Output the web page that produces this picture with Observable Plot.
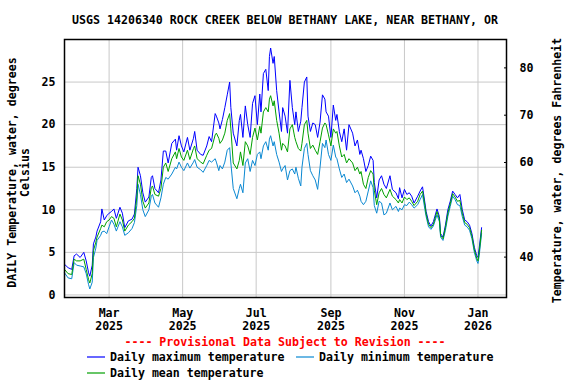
<!DOCTYPE html>
<html>
<head>
<meta charset="utf-8">
<script src="https://cdn.jsdelivr.net/npm/d3@7"></script>
<script src="https://cdn.jsdelivr.net/npm/@observablehq/plot@0.6"></script>
<style>
  body { margin: 0; background: #fff; }
  #wrap { position: relative; width: 576px; height: 384px; overflow: hidden;
          font-family: "DejaVu Sans Mono", monospace; font-weight: bold; font-size: 11.6px; color: #000; }
  #title { position: absolute; left: 64px; width: 442px; top: 13px; line-height: 14px; text-align: center; white-space: nowrap; }
  #chart { position: absolute; left: 0; top: 30px; }
  #prov { position: absolute; left: 64px; width: 442px; top: 335px; line-height: 14px; text-align: center; color: #ff0000; white-space: nowrap; }
  .leg { position: absolute; line-height: 14px; white-space: nowrap; }
  .sw { position: absolute; width: 18px; height: 4px; overflow: visible; }
</style>
</head>
<body>
<div id="wrap">
  <div id="title"></div>
  <div id="chart"></div>
  <div id="prov"></div>
  <div id="legend"></div>
</div>
<script>
// ---------------- data ----------------
const titleText = "USGS 14206340 ROCK CREEK BELOW BETHANY LAKE, NEAR BETHANY, OR";
const provisionalText = "---- Provisional Data Subject to Revision ----";
const yLabelC = "DAILY Temperature, water, degrees\nCelsius";
const yLabelF = "Temperature, water, degrees Fahrenheit";

const startDate = "2025-01-23";
// day offsets from startDate for each reading
const dayOffsets = [0,3,6,8,10,13,16,18,20,21,23,24,26,27,30,31,33,35,37,39,41,43,46,48,50,53,56,58,60,61,63,65,67,70,72,73,75,78,80,82,84,86,89,92,93,95,97,99,102,104,107,108,110,113,115,118,120,122,125,126,128,
129,131,133,135,137,138,140,143,145,146,148,150,152,154,156,158,160,162,163,165,167,169,170,171,173,174,176,178,180,181,183,185,187,189,191,192,194,196,197,199,201,202,204,206,208,210,212,214,216,217,219,221,223,225,226,228,230,232,234,236,239,241,243,245,
246,248,250,252,254,256,257,259,261,263,265,267,270,272,275,277,278,280,282,284,286,288,290,293,295,297,299,300,302,304,306,309,311,312,314,316,318,320,322,324,326,328,330,332,334,336,338,340,342,343,344,346];

const maxTemp = [3.6,3.2,3.0,4.6,4.8,4.4,5.0,4.0,2.6,2.2,3.5,6.0,6.8,7.5,8.6,10.1,8.8,9.3,9.6,9.8,10.1,9.0,10.3,9.6,7.9,8.7,8.9,9.5,12.5,15.0,14.0,12.0,10.9,11.5,13.8,14.0,12.5,12.0,13.5,16.9,16.9,15.5,17.8,18.3,17.0,18.7,17.5,16.8,18.5,17.0,18.4,19.2,17.0,16.5,16.4,17.5,18.6,18.0,21.3,21.0,20.2,
19.5,20.6,22.0,23.5,25.0,22.0,19.0,17.5,20.5,21.2,18.5,22.2,20.0,18.5,22.5,23.4,20.0,23.6,21.5,26.0,26.5,24.0,28.0,29.0,27.2,28.0,24.0,21.5,19.2,22.0,21.0,19.0,25.2,22.0,20.0,21.5,19.2,20.4,22.0,25.0,25.6,21.0,19.2,20.2,20.0,18.5,20.3,23.5,23.0,21.5,21.0,18.5,22.3,20.5,21.2,19.2,18.0,19.5,17.0,20.0,19.0,17.5,18.2,16.5,
17.0,16.0,14.5,15.2,16.3,15.8,13.2,11.4,13.5,14.0,13.0,12.5,14.0,12.4,12.0,11.3,12.6,11.4,12.4,11.8,12.0,11.6,10.8,11.6,12.2,12.7,10.8,9.8,8.6,8.1,8.6,10.1,9.2,7.2,6.8,8.2,10.0,11.0,12.2,11.8,11.4,11.8,10.0,8.8,8.6,8.2,7.2,5.6,4.6,4.4,5.5,7.9];

const meanTemp = [3.0,2.5,2.4,4.2,4.0,4.0,4.2,3.0,1.8,1.4,2.5,5.2,6.2,6.8,7.8,8.2,8.0,8.6,8.8,9.2,9.0,8.0,9.5,8.8,7.5,8.2,8.6,9.0,11.5,14.0,13.0,11.0,10.2,10.8,12.6,12.8,11.8,11.6,12.5,15.0,15.5,14.5,16.0,16.8,16.0,17.2,16.2,15.8,17.0,15.9,17.2,17.5,16.0,15.6,15.4,16.4,17.0,17.2,18.8,19.0,18.4,
17.8,18.2,19.0,20.5,21.3,19.5,15.5,14.8,15.8,16.8,15.2,18.0,17.5,16.5,18.5,19.6,18.2,19.8,19.0,21.5,22.0,21.5,23.0,23.4,22.2,22.8,20.5,19.0,17.0,17.8,17.5,16.8,19.5,20.0,18.5,18.0,17.2,16.9,17.8,20.0,20.5,19.0,17.2,17.6,17.0,16.5,18.0,19.6,20.2,20.0,18.8,17.5,19.5,19.0,19.2,17.5,16.2,16.5,15.5,16.0,15.5,14.6,15.0,14.2,
14.5,13.0,12.5,13.8,14.6,14.2,12.3,10.6,12.0,12.5,11.8,11.4,12.4,11.6,11.2,10.8,11.2,10.8,11.5,11.2,11.4,11.0,10.5,11.0,11.8,12.2,10.5,9.5,8.3,7.9,8.3,9.8,8.9,7.0,6.6,7.9,9.6,10.7,11.9,11.5,11.0,11.1,9.6,8.5,8.3,7.9,6.9,5.3,4.3,4.0,5.0,7.6];

const minTemp = [2.6,2.0,1.9,3.8,3.5,3.4,3.3,2.5,1.2,0.7,1.5,4.4,5.5,6.4,7.0,7.4,7.5,7.2,8.0,8.8,8.3,7.5,8.6,8.0,7.0,7.3,7.8,8.5,10.5,13.0,11.8,10.0,9.2,10.0,11.6,11.8,10.8,10.3,11.4,13.0,13.8,13.6,14.2,15.0,14.8,15.6,15.0,14.6,15.5,14.9,15.6,15.9,15.0,14.7,14.4,15.2,15.8,15.6,16.0,15.6,14.6,
15.2,14.8,15.6,17.0,17.3,15.5,12.5,11.3,12.5,13.0,12.0,15.5,16.0,14.5,15.8,15.2,16.5,16.8,16.0,17.5,18.0,17.0,18.3,18.7,17.5,18.0,16.5,15.6,14.5,14.8,15.2,13.5,14.6,14.8,14.2,15.0,13.7,12.8,15.0,17.2,17.8,16.5,14.6,14.0,13.5,12.4,15.0,17.8,17.3,18.2,16.5,15.8,17.6,16.2,16.0,14.8,13.8,14.2,13.2,13.6,12.8,12.0,12.3,11.6,
11.0,10.6,11.0,12.2,13.4,12.6,10.5,9.6,11.0,10.8,9.4,9.6,10.8,10.0,10.4,9.8,10.2,10.0,10.6,10.5,10.9,10.6,10.2,10.6,11.2,11.8,10.0,9.2,8.0,7.7,8.1,9.4,8.6,6.8,6.4,7.6,9.2,10.4,11.6,11.2,10.6,10.5,9.2,8.2,8.0,7.6,6.6,5.0,4.0,3.7,4.6,7.2];

const seriesNames = ["Daily maximum temperature", "Daily minimum temperature", "Daily mean temperature"];
const seriesColors = ["#0000ff", "#0a88d2", "#00a000"];

const celsiusTicks = [0, 5, 10, 15, 20, 25];
const fahrenheitTicks = [40, 50, 60, 70, 80];
const monthTicks = ["2025-03-01", "2025-05-01", "2025-07-01", "2025-09-01", "2025-11-01", "2026-01-01"];
const xDomain = ["2025-01-23T00:00:00Z", "2026-01-24T16:00:00Z"];
const yDomain = [-0.3, 30];

// ---------------- build ----------------
document.getElementById("title").textContent = titleText;
document.getElementById("prov").textContent = provisionalText;

const start = new Date(startDate + "T00:00:00Z");
const seriesValues = [maxTemp, minTemp, meanTemp];
const rows = [];
seriesNames.forEach((name, s) => {
  dayOffsets.forEach((n, i) => {
    rows.push({date: d3.utcDay.offset(start, n), value: seriesValues[s][i], series: name});
  });
});
const monthDates = monthTicks.map(d => new Date(d + "T00:00:00Z"));
const fTicksC = fahrenheitTicks.map(f => (f - 32) * 5 / 9);
const fmtMon = d3.utcFormat("%b"), fmtYear = d3.utcFormat("%Y");

const chart = Plot.plot({
  width: 576,
  height: 306,
  marginLeft: 64,
  marginRight: 70,
  marginTop: 9,
  marginBottom: 39,
  style: {fontFamily: "'DejaVu Sans Mono', monospace", fontSize: "11.6px", fontWeight: "bold", background: "white", color: "black", overflow: "visible"},
  x: {type: "utc", domain: xDomain.map(d => new Date(d))},
  y: {domain: yDomain},
  color: {domain: seriesNames, range: seriesColors},
  marks: [
    Plot.gridY(celsiusTicks, {stroke: "#c8c8c8", strokeOpacity: 1}),
    Plot.gridX(monthDates, {stroke: "#c8c8c8", strokeOpacity: 1}),
    Plot.line(rows, {x: "date", y: "value", z: "series", stroke: "series", strokeWidth: 1}),
    Plot.axisY(celsiusTicks, {anchor: "left", tickSize: 0, tickPadding: 9, label: null}),
    Plot.axisY(fTicksC, {anchor: "right", tickSize: -3, tickPadding: 16, label: null,
      tickFormat: c => String(Math.round(c * 9 / 5 + 32))}),
    Plot.axisX(monthDates, {anchor: "bottom", tickSize: 0, tickPadding: 10, label: null, lineHeight: 1.12,
      tickFormat: d => fmtMon(d) + "\n" + fmtYear(d)}),
    Plot.frame({stroke: "black", strokeWidth: 1.5}),
    Plot.text([yLabelC], {text: d => d, frameAnchor: "left", textAnchor: "middle", lineAnchor: "middle", rotate: -90, dx: -46, dy: 4, lineHeight: 1.15}),
    Plot.text([yLabelF], {text: d => d, frameAnchor: "right", textAnchor: "middle", lineAnchor: "middle", rotate: -90, dx: 51, dy: 2})
  ]
});
document.getElementById("chart").appendChild(chart);

// legend
const legend = document.getElementById("legend");
const legendPos = [
  {sx: 87, tx: 110, y: 357},
  {sx: 296, tx: 319, y: 357},
  {sx: 87, tx: 110, y: 373}
];
const svgNS = "http://www.w3.org/2000/svg";
seriesNames.forEach((name, i) => {
  const p = legendPos[i];
  const sw = document.createElementNS(svgNS, "svg");
  sw.setAttribute("class", "sw");
  sw.setAttribute("width", "18");
  sw.setAttribute("height", "4");
  sw.style.left = p.sx + "px";
  sw.style.top = (p.y - 2) + "px";
  const ln = document.createElementNS(svgNS, "line");
  ln.setAttribute("x1", "0"); ln.setAttribute("x2", "18");
  ln.setAttribute("y1", "2"); ln.setAttribute("y2", "2");
  ln.setAttribute("stroke", seriesColors[i]);
  ln.setAttribute("stroke-width", "1.2");
  sw.appendChild(ln);
  legend.appendChild(sw);
  const t = document.createElement("div");
  t.className = "leg";
  t.style.left = p.tx + "px";
  t.style.top = (p.y - 7) + "px";
  t.textContent = name;
  legend.appendChild(t);
});
</script>
</body>
</html>
